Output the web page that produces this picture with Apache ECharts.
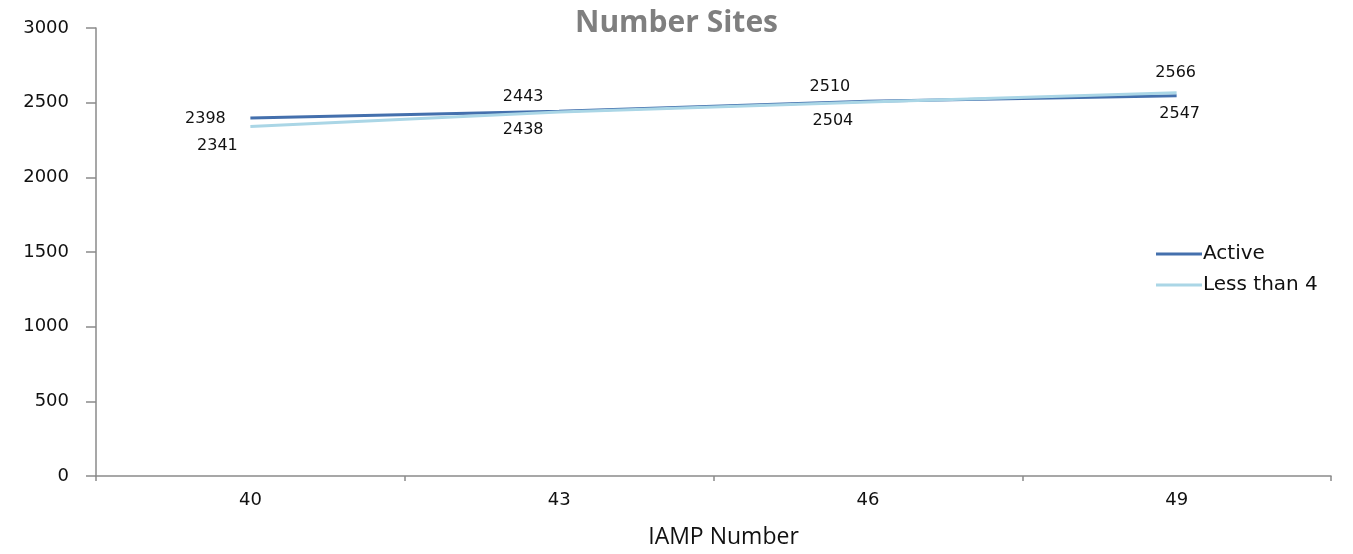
<!DOCTYPE html>
<html>
<head>
<meta charset="utf-8">
<script src="https://cdn.jsdelivr.net/npm/echarts@6/dist/echarts.min.js"></script>
<style>
html,body{margin:0;padding:0;background:#fff;overflow:hidden;}
#chart{width:1353px;height:554px;}
</style>
</head>
<body>
<div id="chart"></div>
<script>
const categories = ['40', '43', '46', '49'];
const activeValues = [2398, 2443, 2510, 2547];
const lessThan4Values = [2341, 2438, 2504, 2566];
const yTicks = [0, 500, 1000, 1500, 2000, 2500, 3000];

// label placement offsets (style only)
const activeLabelOffsets = [[-45, 1], [-36, -14], [-38, -14], [3, 18]];
const lessLabelOffsets = [[-33, 19], [-36, 18], [-35, 19], [-1, -20]];

function buildData(values, offsets) {
  return values.map((v, i) => ({
    value: v,
    label: { offset: offsets[i] }
  }));
}

const labelStyle = {
  show: true,
  position: 'inside',
  fontFamily: 'DejaVu Sans',
  fontSize: 16,
  color: '#111111'
};

const chart = echarts.init(document.getElementById('chart'));
chart.setOption({
  animation: false,
  backgroundColor: '#ffffff',
  title: {
    text: 'Number Sites',
    left: 'center',
    top: 3,
    padding: [5, 13, 5, 0],
    textStyle: { fontFamily: 'Open Sans', fontWeight: 'bold', fontSize: 30, color: '#7f7f7f' }
  },
  legend: {
    orient: 'vertical',
    left: 1151,
    top: 239,
    itemWidth: 46,
    itemHeight: 3,
    itemGap: 11,
    icon: 'rect',
    textStyle: { fontFamily: 'DejaVu Sans', fontSize: 20, color: '#111111', padding: [0, 0, 0, -4] },
    data: ['Active', 'Less than 4']
  },
  grid: { left: 96, right: 22, top: 28, height: 450, containLabel: false },
  xAxis: {
    type: 'category',
    data: categories,
    boundaryGap: true,
    name: 'IAMP Number',
    nameLocation: 'middle',
    nameGap: 50,
    nameTextStyle: { fontFamily: 'Open Sans', fontSize: 23, color: '#111111', padding: [0, 0, 0, 20] },
    axisLine: { lineStyle: { color: '#8a8a8a', width: 1.5 } },
    axisTick: { show: true, length: 5, lineStyle: { color: '#8a8a8a', width: 1.5 } },
    axisLabel: { margin: 15, fontFamily: 'DejaVu Sans', fontSize: 18, color: '#111111' },
    splitLine: { show: false }
  },
  yAxis: {
    type: 'value',
    min: yTicks[0],
    max: yTicks[yTicks.length - 1],
    interval: yTicks[1] - yTicks[0],
    axisLine: { show: true, lineStyle: { color: '#8a8a8a', width: 1.5 } },
    axisTick: { show: true, length: 10, lineStyle: { color: '#8a8a8a', width: 1.5 } },
    axisLabel: { margin: 27, fontFamily: 'DejaVu Sans', fontSize: 18, color: '#111111', formatter: v => String(v) },
    splitLine: { show: false }
  },
  series: [
    {
      name: 'Active',
      type: 'line',
      data: buildData(activeValues, activeLabelOffsets),
      symbol: 'circle',
      symbolSize: 0,
      showSymbol: true,
      lineStyle: { color: '#4470ad', width: 3 },
      itemStyle: { color: '#4470ad' },
      label: labelStyle
    },
    {
      name: 'Less than 4',
      type: 'line',
      data: buildData(lessThan4Values, lessLabelOffsets),
      symbol: 'circle',
      symbolSize: 0,
      showSymbol: true,
      lineStyle: { color: '#aad6e6', width: 3 },
      itemStyle: { color: '#aad6e6' },
      label: labelStyle
    }
  ]
});
</script>
</body>
</html>
